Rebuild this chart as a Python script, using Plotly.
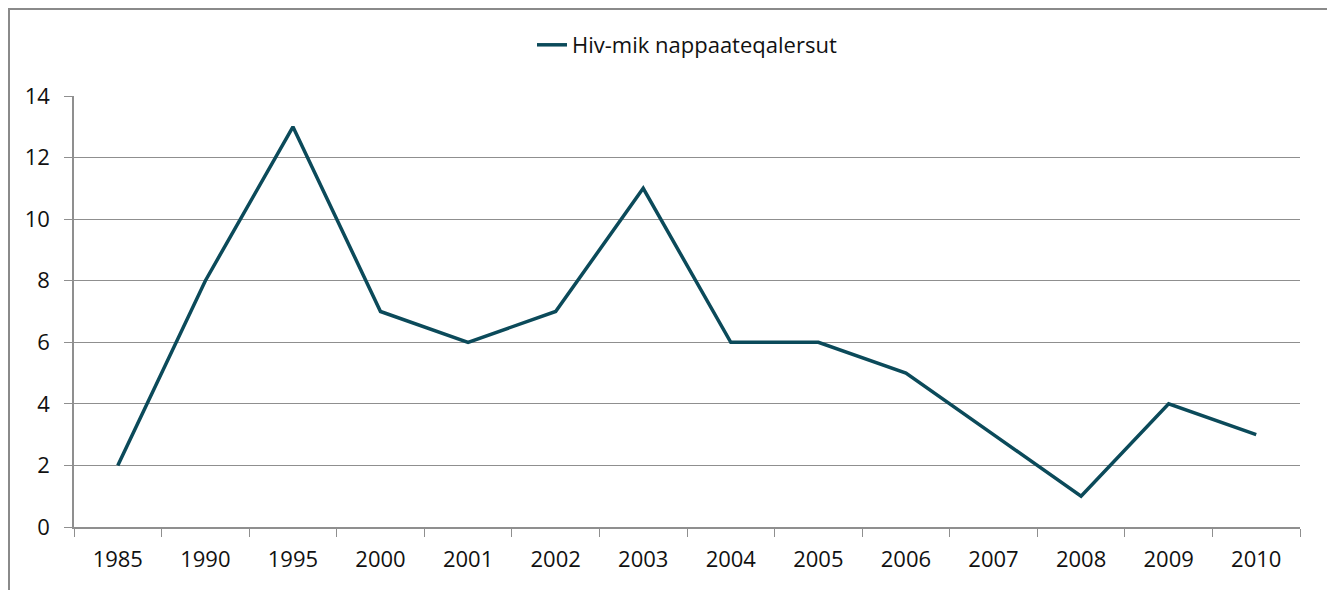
import plotly.graph_objects as go

years = ["1985", "1990", "1995", "2000", "2001", "2002", "2003", "2004", "2005",
         "2006", "2007", "2008", "2009", "2010"]
values = [2, 8, 13, 7, 6, 7, 11, 6, 6, 5, 3, 1, 4, 3]
series_name = "Hiv-mik nappaateqalersut"

OFF = 8  # default page body margin
W, H = 1335 - OFF, 590 - OFF
# target pixel positions in the page
PL, PR, PT, PB = 74, 1300, 96, 527
L, T = PL - OFF, PT - OFF
R = W - (PR - OFF)
B = H - (PB - OFF)
pw, ph = PR - PL, PB - PT

def px_x(p):
    return (p - PL) / pw

def px_y(p):
    return (PB - p) / ph

fig = go.Figure()
fig.add_trace(go.Scatter(
    x=years, y=values, mode="lines", name=series_name,
    line=dict(color="#0b4a5a", width=3.5),
    showlegend=True,
))

grid = "#8f8f8f"
fig.update_layout(
    width=W, height=H,
    margin=dict(l=L, r=R, t=T, b=B),
    paper_bgcolor="white", plot_bgcolor="white",
    font=dict(family="Open Sans, Liberation Sans, sans-serif", size=22, color="#111111"),
    showlegend=True,
    legend=dict(x=0.5, xanchor="center", y=px_y(45), yanchor="middle",
                orientation="h", font=dict(size=22)),
    xaxis=dict(type="category", tickson="boundaries", ticks="outside", ticklen=8,
               tickcolor=grid, showline=True, linecolor=grid, linewidth=1.5,
               showgrid=False, range=[-0.5, len(years) - 0.5],
               ticklabelstandoff=12),
    yaxis=dict(range=[0, 14], dtick=2, ticks="outside", ticklen=8, tickcolor=grid,
               showline=True, linecolor=grid, linewidth=1.5,
               showgrid=True, gridcolor=grid, gridwidth=1, zeroline=False,
               ticklabelstandoff=10),
    shapes=[dict(type="rect", xref="paper", yref="paper",
                 x0=px_x(OFF + 1), x1=px_x(1328), y0=px_y(640), y1=px_y(OFF + 1),
                 line=dict(color="#8a8a8a", width=2), fillcolor="rgba(0,0,0,0)",
                 layer="below")],
)

fig.write_html("out.html")
